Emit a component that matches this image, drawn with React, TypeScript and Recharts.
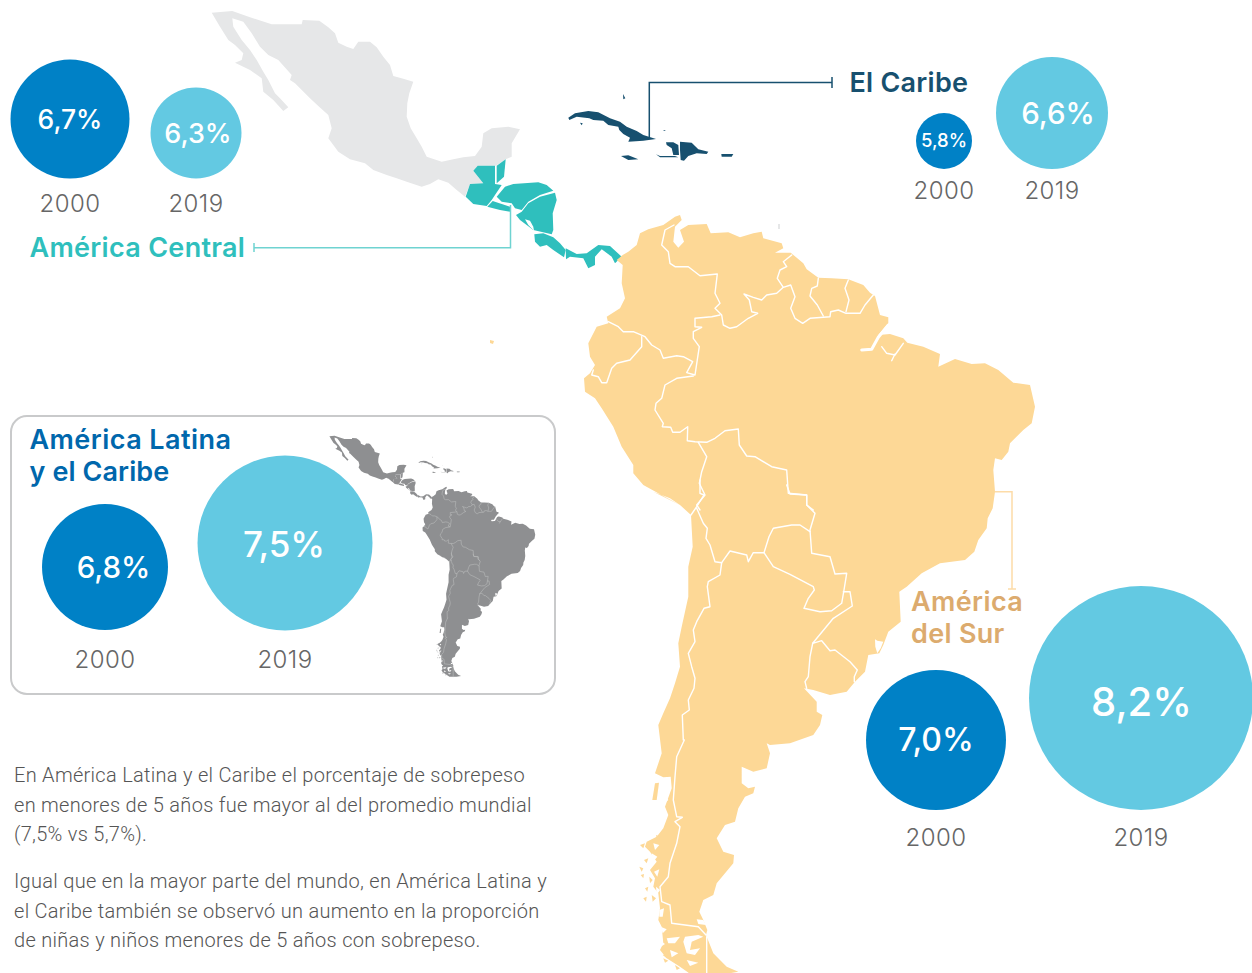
import React from 'react';
import { ScatterChart, Scatter, XAxis, YAxis, Customized } from 'recharts';

// values
const regions = ['América Central', 'El Caribe', 'América Latina y el Caribe', 'América del Sur'];
const years = ['2000', '2019'];
const values2000 = [6.7, 5.8, 6.8, 7.0];
const values2019 = [6.3, 6.6, 7.5, 8.2];

// bubble layout on the 1252x973 page: centre x, centre y
const centres2000 = [[70, 119], [944, 141], [105, 567], [936, 740]];
const centres2019 = [[196, 133], [1052, 113], [285, 543], [1141, 698]];
const yearLabelY2000 = [203, 190, 659, 837];
const yearLabelY2019 = [203, 190, 659, 837];
const labelShift2000 = [[0, 0], [0, -1], [8.5, 0], [0, -1]];
const labelShift2019 = [[2, 0], [6, 0], [-1, 1], [0.5, 3]];
const labelSize2000 = [26.5, 18.5, 29.5, 32];
const labelSize2019 = [27, 29.5, 35, 40];

const BLUE = '#0081c6';
const SKY = '#63c9e2';
const TEAL = '#2fbfbd';
const NAVY = '#17506f';
const SAND = '#fdd896';
const MEXICO = '#e6e7e8';
const FONT = 'Inter, "Open Sans", sans-serif';

// bubble radius grows linearly with the percentage in the original
const radius = (v: number) => 28 + (v - 5.8) * 35;

const rows = regions.flatMap((region, i) => [
  { region, year: years[0], x: centres2000[i][0], y: centres2000[i][1], value: values2000[i], yearY: yearLabelY2000[i], shift: labelShift2000[i], size: labelSize2000[i], fill: BLUE },
  { region, year: years[1], x: centres2019[i][0], y: centres2019[i][1], value: values2019[i], yearY: yearLabelY2019[i], shift: labelShift2019[i], size: labelSize2019[i], fill: SKY },
]);

type P = number[];
const seg = (ox: number, oy: number, pts: P) => {
  const out: P = [];
  for (let i = 0; i < pts.length; i += 2) out.push(ox + pts[i] / 3, oy + pts[i + 1] / 3);
  return out;
};
const line = (pts: P, close = true) => {
  let d = '';
  for (let i = 0; i < pts.length; i += 2) d += (i ? 'L' : 'M') + pts[i].toFixed(1) + ' ' + pts[i + 1].toFixed(1);
  return d + (close ? 'Z' : '');
};
const A = (pts: P) => seg(200, 0, pts);
const C = (pts: P) => seg(560, 70, pts);
const N = (pts: P) => seg(580, 210, pts);
const M = (pts: P) => seg(620, 480, pts);
const S = (pts: P) => seg(620, 720, pts);

const mexico = line(A([35,38,97,33,150,52,215,73,305,73,308,60,358,62,385,82,405,100,415,128,440,140,460,147,475,125,510,125,530,142,550,170,570,195,580,228,610,236,640,245,628,280,622,310,620,350,632,385,650,415,665,440,680,470,725,485,760,478,790,472,825,468,845,440,850,400,875,385,925,380,960,388,935,430,935,470,917,478,888,497,833,497,820,512,850,550,810,552,795,590,770,570,745,548,715,538,690,552,665,560,620,545,590,535,560,525,520,510,495,490,450,478,415,455,385,415,395,385,385,345,355,318,330,295,285,250,270,240,275,225,235,180,205,165,180,140,155,100,130,65,97,55,100,80,125,120,150,150,170,180,190,215,205,240,225,280,240,295,265,322,250,333,220,300,190,275,185,235,150,210,105,188,125,180,130,160,105,135,85,120,60,80]));

const central = [
  [833,497,885,497,885,552,905,555,885,585,875,600,860,618,820,612,797,590,810,552,850,550,820,512],
  [890,497,917,478,912,530,890,550],
  [862,620,878,603,930,620,930,635,900,630],
  [890,590,915,560,940,552,1015,547,1040,555,1060,572,1020,585,985,605,965,630,945,625,935,610,905,605],
  [948,645,965,635,985,610,1020,590,1065,578,1070,600,1058,640,1060,690,1055,703,1000,690,960,660],
  [1003,703,1030,700,1060,712,1080,730,1097,750,1092,772,1060,750,1040,735,1020,740,1005,725],
  [1097,745,1130,762,1160,760,1195,735,1230,738,1265,770,1245,790,1235,770,1205,748,1185,770,1185,795,1165,805,1150,775,1110,770,1098,778],
].map((p) => line(A(p)));
const lakes = [[975,658,990,662,1000,680,1002,692,985,675]].map((p) => line(A(p)));

const caribbean = [
  [25,143,45,130,85,123,115,127,150,145,180,155,200,170,230,183,250,195,288,207,250,212,205,215,210,203,190,192,178,180,175,170,145,165,130,152,100,150,88,145,50,140,28,150],
  [60,158,68,160,65,166],
  [189,72,196,85,190,88],
  [183,258,205,256,235,268,205,270],
  [318,217,340,217,355,225,357,255,340,255,335,235,320,225],
  [288,253,300,258,345,258,355,262,300,262],
  [360,215,395,218,415,238,445,245,440,252,410,250,385,258,372,272,362,270,360,240],
  [484,252,520,252,515,260,485,260],
  [310,180,318,181,312,183],
].map((p) => line(C(p)));

const southAmerica = line([
  ...N([128,135,145,125,170,105,180,70,205,58,250,45,285,20,300,15,305,30,285,50,280,95,295,113,312,95,300,60,325,45,380,42,392,70,445,67,480,82,520,70,545,65,550,85,605,100,610,115,585,128,632,128,670,160,680,178,715,203,755,205,805,208,850,225,870,248,885,258,900,315,925,322,925,340,895,375,930,372,970,385,982,398,1030,410,1080,432,1075,470,1125,447,1175,462,1215,460,1255,480,1300,518,1350,525,1365,590,1355,640,1330,660,1290,700,1285,725,1265,750,1245,745,1240,780,1245,845]),
  ...M([1118,85,1103,115,1100,145,1075,180,1063,215,1035,240,960,250,905,280,860,320,838,335,842,425,805,455,790,495,778,520,745,525,735,575,705,605,680,635,630,645,580,630,552,625,590,665,590,695,607,705,600,735,580,765,510,790,450,795,440,790]),
  ...S([450,100,440,145,400,155,365,140,365,190,385,205,405,200,400,220,375,230,355,265,345,305,315,315,290,355,310,395,342,405,340,430,290,490,280,525,250,540,238,575,250,600,262,630,258,645,280,700,320,740,355,755,300,765,215,765,180,740,140,715,120,690,130,670,125,620,115,600,120,565,115,520,100,500,105,475,90,450,110,425,90,395,75,380,80,365,110,350,130,325,145,285,135,260,155,205,152,170,130,172,105,160,125,100,115,15]),
  ...M([130,700,150,655,165,610,180,560,175,490,185,440,205,350,205,260,218,200,213,105,180,75,150,55,100,35]),
  ...N([300,885,235,850,190,825,160,790,160,765,125,710,100,650,65,595,45,565,15,545,12,505,30,490,45,465,30,440,25,400,50,350,85,340,80,320,120,295,135,265,125,220,128,165,110,150]),
]);

const islands = [
  [97,240,105,190,117,188,110,240],
  [60,375,75,370,70,385],
  [58,440,70,445,65,455],
  [75,505,85,500,82,515],
  [128,705,145,700,140,715],
  [72,420,85,415,80,430],
  [62,465,72,462,70,475],
  [88,470,98,480,90,490],
  [70,535,80,530,78,545],
  [95,525,108,535,98,545],
  [108,345,125,352,112,362],
  [130,715,145,722,135,728],
  [165,735,180,745,170,750],
  [200,742,215,738,212,750],
].map((p) => line(S(p)));

const fjords = [
  ...[
    [195,650,235,645,250,650,215,665,210,690,240,685,225,705,200,700,190,665],
    [140,655,180,650,165,670,145,670],
    [230,598,250,600,258,615,235,612],
    [118,570,132,565,128,590,118,590],
    [122,620,140,628,128,640],
    [118,660,135,672,122,680],
    [150,690,175,700,155,712],
    [102,455,118,448,112,470],
    [108,500,120,510,110,525],
    [95,400,112,410,100,425],
    [118,185,130,195,122,215],
    [135,225,145,240,133,250],
    [100,370,118,375,105,390],
    [200,720,235,728,210,738],
  ].map((p) => line(S(p))),
  line(M([765,478,772,482,790,485,782,505,772,520,766,500])),
];

const borders = [
  N([282,45,255,60,245,105,265,125,270,160,285,170,325,170,360,197,412,192,405,250,420,280,405,295,425,315,430,345,450,355,470,350,505,325,533,310,515,305,508,270,492,252,520,262,545,270,560,255,590,250,610,232,592,205,600,180,620,170,610,155,635,135]),
  N([610,232,632,225,645,260,632,295,645,325,668,340,690,325,750,320,752,305,775,300,798,310,840,310,855,285,880,255]),
  N([715,205,712,228,695,235,690,258,712,285,730,318]),
  N([805,210,795,235,807,270,798,305]),
  N([420,315,395,320,345,325,345,350,365,352,340,365,340,385,358,410,345,495,320,488,338,455,310,440,290,437,250,445,240,420,215,405,195,380,160,365,130,365,115,350,85,335]),
  N([185,380,185,410,150,450,110,460,95,475,80,518,65,518,55,500,35,495,40,480]),
  N([340,498,290,505,255,525,245,565,228,580,225,600,250,640,247,650,272,652,278,667,300,667,323,650,322,692,345,695,380,697,405,685,435,662,475,657,478,705,500,738,525,740,575,770,620,780,625,850,680,855,680,885,700,900]),
  N([355,697,380,740,365,785,358,820,375,855,350,885,360,900]),
  M([240,0,240,40,252,45,230,80,213,105]),
  M([230,85,250,130,262,145,258,175,270,195,285,245,305,248,330,213,380,225,385,245,400,218,432,218,447,170,460,145,515,135,540,135,570,155]),
  M([500,15,510,42,560,45,560,75,585,100,570,150,575,220,630,230,645,282,680,280,672,330,665,370,635,392,600,395,552,385,565,355,583,330,580,320,510,283,460,260,432,218]),
  M([670,335,690,335,697,378,640,415,578,490,605,482,630,512,645,510,690,545,712,570,703,590,703,605]),
  M([578,490,570,530,565,590,555,605,560,625]),
  M([305,248,300,285,265,305,262,320,270,380,252,385,230,425,220,450,225,485,205,520,215,560,225,595,222,625,205,660,208,690,187,705,190,780]),
  S([193,60,170,110,165,170,160,240,170,290,187,292,165,305,180,320,170,370,150,430,145,470,120,500,125,545,150,555,155,610,235,620,258,645]),
  S([260,650,260,765]),
  N([905,410,920,430,945,435,970,400]),
  N([935,452,945,432]),
];
const riverMouth = N([845,420,875,418,895,382,925,345]);

function Land({ central: cf, caribbean: rf, mexico: mf, south, border, borderW, bg, width }: any) {
  return (
    <g strokeLinejoin="round" strokeLinecap="round">
      <path d={mexico} fill={mf} />
      {central.map((d, i) => <path key={i} d={d} fill={cf} />)}
      {lakes.map((d, i) => <path key={i} d={d} fill={bg} />)}
      {caribbean.map((d, i) => <path key={i} d={d} fill={rf} />)}
      <path d={southAmerica} fill={south} />
      {fjords.map((d, i) => <path key={i} d={d} fill={bg} />)}
      {islands.map((d, i) => <path key={i} d={d} fill={south} />)}
      <path d={line(riverMouth, false)} fill="none" stroke={bg} strokeWidth={width} />
      {borders.map((p, i) => <path key={i} d={line(p, false)} fill="none" stroke={border} strokeWidth={borderW} />)}
    </g>
  );
}

const Txt = ({ x, y, children, size, fill, weight = 400, anchor = 'start', ls = 0, family = FONT }: any) => (
  <text x={x} y={y} fontSize={size} fill={fill} fontWeight={weight} textAnchor={anchor} letterSpacing={ls} fontFamily={family} dominantBaseline="central">
    {children}
  </text>
);

const paragraphs = [
  { y: 775, t: 'En América Latina y el Caribe el porcentaje de sobrepeso' },
  { y: 805, t: 'en menores de 5 años fue mayor al del promedio mundial' },
  { y: 834, t: '(7,5% vs 5,7%).' },
  { y: 881, t: 'Igual que en la mayor parte del mundo, en América Latina y' },
  { y: 911, t: 'el Caribe también se observó un aumento en la proporción' },
  { y: 940, t: 'de niñas y niños menores de 5 años con sobrepeso.' },
];

function Backdrop() {
  return (
    <g>
      <Land central={TEAL} caribbean={NAVY} mexico={MEXICO} south={SAND} border="#fff" borderW={1.4} bg="#fff" width={3} />
      <path d="M490 340l4 1-1 3-3-1z" fill={SAND} />
      <rect x={778} y={224} width={2} height={5} fill={MEXICO} />
      <rect x={11} y={416} width={544} height={278} rx={16} fill="#fff" stroke="#c9cacb" strokeWidth={2} />
      <g transform="translate(276.5 433) scale(0.25)">
        <Land central="#8e8f91" caribbean="#8e8f91" mexico="#8e8f91" south="#8e8f91" border="#b9babb" borderW={2.4} bg="#fff" width={6} />
      </g>
      {/* leader lines */}
      <path d="M254 243v9M254 247.7H510.5V205" fill="none" stroke="#6fd3d1" strokeWidth={1.5} />
      <path d="M649.3 137V82.5H832M832 77v11" fill="none" stroke={NAVY} strokeWidth={1.5} />
      <path d="M995 491.7H1012V589M1008 589h8" fill="none" stroke="#fddca8" strokeWidth={1.5} />
      {/* region names */}
      <Txt x={29.5} y={247.5} size={27} fill={TEAL} weight={600} ls={0.3}>{regions[0]}</Txt>
      <Txt x={849.5} y={82} size={27} fill={NAVY} weight={600} ls={0.25}>{regions[1]}</Txt>
      <Txt x={29.5} y={439.5} size={27} fill="#0067ac" weight={600} ls={0.45}>América Latina</Txt>
      <Txt x={29.5} y={471.5} size={27} fill="#0067ac" weight={600} ls={0.1}>y el Caribe</Txt>
      <Txt x={911} y={601} size={27} fill="#dcab6e" weight={600} ls={0.4}>América</Txt>
      <Txt x={911} y={633} size={27} fill="#dcab6e" weight={600} ls={0.3}>del Sur</Txt>
      {paragraphs.map((p) => (
        <Txt key={p.y} x={14} y={p.y} size={20} fill="#555" weight={300} ls={0.29} family="Roboto, sans-serif">{p.t}</Txt>
      ))}
    </g>
  );
}

function Bubble(props: any) {
  const { cx, cy, payload } = props;
  const label = payload.value.toFixed(1).replace('.', ',') + '%';
  return (
    <g>
      <circle cx={cx} cy={cy} r={radius(payload.value)} fill={payload.fill} />
      <Txt x={cx + payload.shift[0]} y={cy + payload.shift[1]} size={payload.size} fill="#fff" weight={500} anchor="middle">{label}</Txt>
      <Txt x={cx} y={payload.yearY} size={24} fill="#666" weight={300} anchor="middle" ls={0.4}>{payload.year}</Txt>
    </g>
  );
}

export default function App() {
  return (
    <div style={{ position: 'absolute', left: 0, top: 0, width: 1252, height: 973, overflow: 'hidden' }}>
      <ScatterChart width={1252} height={973} margin={{ top: 0, right: 0, bottom: 0, left: 0 }}>
        <XAxis type="number" dataKey="x" domain={[0, 1252]} hide />
        <YAxis type="number" dataKey="y" domain={[0, 973]} reversed hide />
        <Customized component={Backdrop} />
        <Scatter data={rows} shape={Bubble} isAnimationActive={false} />
      </ScatterChart>
    </div>
  );
}
